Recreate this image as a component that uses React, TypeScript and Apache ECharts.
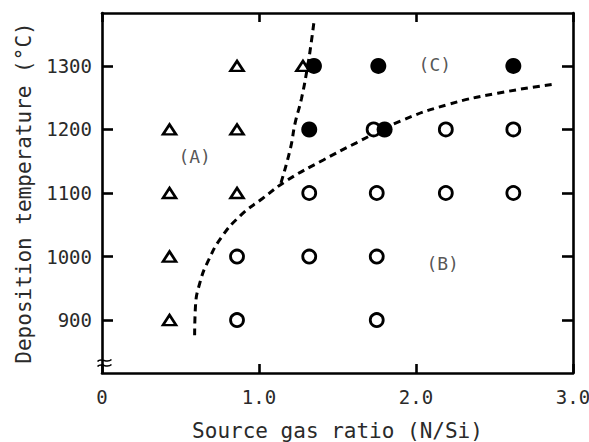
import React, { useEffect, useRef } from "react";
import * as echarts from "echarts";

// Axis ticks
const yTickValues = [900, 1000, 1100, 1200, 1300];
const yMin = 816.7;
const yMax = 1383.3;
const xMin = 0;
const xMax = 3;

// Markers: (A) region - open triangles
const triangles: [number, number][] = [
  [0.43, 1200], [0.43, 1100], [0.43, 1000], [0.43, 900],
  [0.86, 1300], [0.86, 1200], [0.86, 1100],
  [1.28, 1300],
];

// (B) region - open circles
const openCircles: [number, number][] = [
  [0.86, 1000], [0.86, 900],
  [1.32, 1100], [1.32, 1000],
  [1.73, 1200], [1.75, 1100], [1.75, 1000], [1.75, 900],
  [2.19, 1200], [2.19, 1100],
  [2.62, 1200], [2.62, 1100],
];

// (C) region - filled circles
const filledCircles: [number, number][] = [
  [1.35, 1300], [1.76, 1300], [2.62, 1300],
  [1.32, 1200], [1.80, 1200],
];

// Boundaries (dashed)
const boundaryLower: [number, number][] = [
  [0.59, 876], [0.595, 920], [0.625, 960], [0.68, 995], [0.76, 1030],
  [0.88, 1064], [1.02, 1091], [1.18, 1120], [1.41, 1152],
  [1.62, 1179], [1.90, 1213], [2.20, 1239], [2.52, 1257],
  [2.87, 1271],
];
const boundaryUpper: [number, number][] = [
  [1.14, 1116], [1.20, 1170], [1.23, 1210], [1.27, 1248], [1.31, 1300],
  [1.33, 1332], [1.35, 1369],
];

// Region labels
const regionLabels = ["(A)", "(B)", "(C)"];
const regionPositions: [number, number][] = [
  [0.59, 1157], [2.17, 989], [2.12, 1302],
];

const FONT = "'DejaVu Sans Mono', 'Liberation Mono', monospace";
const TEXT = "#2a2a2a";

export default function App() {
  const ref = useRef<HTMLDivElement>(null);

  useEffect(() => {
    if (!ref.current) return;
    const chart = echarts.init(ref.current, undefined, { renderer: "svg" });

    const axisLine = { show: true, onZero: false, lineStyle: { color: "#000", width: 2.6 } };
    const dashed = {
      type: "line" as const,
      smooth: 0.5,
      showSymbol: false,
      symbol: "none",
      silent: true,
      z: 1,
      lineStyle: { color: "#000", width: 3, type: [7, 5] as number[] },
    };

    chart.setOption({
      animation: false,
      backgroundColor: "#fff",
      grid: { left: 102, right: 16, top: 13, bottom: 69, outerBoundsMode: "none", containLabel: false },
      xAxis: [
        {
          type: "value",
          min: xMin,
          max: xMax,
          interval: 1,
          position: "bottom",
          axisLine,
          axisTick: { show: true, inside: true, length: 9, lineStyle: { color: "#000", width: 2.6 } },
          splitLine: { show: false },
          axisLabel: {
            color: TEXT,
            fontFamily: FONT,
            fontSize: 19,
            margin: 14,
            formatter: (v: number) => (v === 0 ? "0" : v.toFixed(1)),
          },
          name: "Source gas ratio (N/Si)",
          nameLocation: "middle",
          nameGap: 47,
          nameTextStyle: { color: TEXT, fontFamily: FONT, fontSize: 21 },
        },
        {
          type: "value",
          min: xMin,
          max: xMax,
          interval: 1,
          position: "top",
          axisLine,
          axisTick: { show: true, inside: true, length: 9, lineStyle: { color: "#000", width: 2.6 } },
          axisLabel: { show: false },
          splitLine: { show: false },
        },
      ],
      yAxis: [
        {
          type: "value",
          min: yMin,
          max: yMax,
          position: "left",
          axisLine,
          axisTick: {
            show: true,
            inside: true,
            length: 11,
            customValues: yTickValues,
            lineStyle: { color: "#000", width: 2.6 },
          },
          axisLabel: {
            color: TEXT,
            fontFamily: FONT,
            fontSize: 19,
            margin: 10,
            customValues: yTickValues,
            formatter: (v: number) => String(Math.round(v)),
          },
          splitLine: { show: false },
          name: "Deposition temperature (°C)",
          nameLocation: "middle",
          nameGap: 68,
          nameRotate: 90,
          nameTextStyle: { color: TEXT, fontFamily: FONT, fontSize: 21 },
        },
        {
          type: "value",
          min: yMin,
          max: yMax,
          position: "right",
          axisLine,
          axisTick: {
            show: true,
            inside: true,
            length: 11,
            customValues: yTickValues,
            lineStyle: { color: "#000", width: 2.6 },
          },
          axisLabel: { show: false },
          splitLine: { show: false },
        },
      ],
      series: [
        { ...dashed, name: "boundary AB", data: boundaryLower },
        { ...dashed, name: "boundary AC", data: boundaryUpper },
        {
          type: "scatter",
          name: "triangles",
          symbol: "triangle",
          symbolSize: [13, 10],
          z: 3,
          itemStyle: { color: "#fff", borderColor: "#000", borderWidth: 2.6, opacity: 1 },
          data: triangles,
        },
        {
          type: "scatter",
          name: "open circles",
          symbol: "circle",
          symbolSize: 13,
          z: 4,
          itemStyle: { color: "#fff", borderColor: "#000", borderWidth: 2.8, opacity: 1 },
          data: openCircles,
        },
        {
          type: "scatter",
          name: "filled circles",
          symbol: "circle",
          symbolSize: 16,
          z: 5,
          itemStyle: { color: "#000", opacity: 1 },
          data: filledCircles,
        },
        {
          type: "scatter",
          name: "regions",
          symbolSize: 0,
          silent: true,
          z: 6,
          label: {
            show: true,
            position: "inside",
            color: TEXT,
            fontFamily: FONT,
            fontSize: 18,
            formatter: (p: any) => regionLabels[p.dataIndex],
          },
          data: regionPositions,
        },
      ],
      graphic: [
        {
          type: "group",
          left: 95,
          top: 357,
          z: 100,
          children: [
            {
              type: "rect",
              shape: { x: 4, y: 2, width: 6, height: 7 },
              style: { fill: "#fff" },
            },
            {
              type: "bezierCurve",
              shape: { x1: 0, y1: 4, x2: 14, y2: 2, cpx1: 4, cpy1: -1, cpx2: 9, cpy2: 7 },
              style: { stroke: "#000", lineWidth: 1.6, fill: "none" },
            },
            {
              type: "bezierCurve",
              shape: { x1: 0, y1: 9, x2: 14, y2: 7, cpx1: 4, cpy1: 4, cpx2: 9, cpy2: 12 },
              style: { stroke: "#000", lineWidth: 1.6, fill: "none" },
            },
          ],
        },
      ],
    });

    return () => chart.dispose();
  }, []);

  return (
    <div
      ref={ref}
      style={{ position: "fixed", left: 0, top: 0, width: 589, height: 442, background: "#fff" }}
    />
  );
}
